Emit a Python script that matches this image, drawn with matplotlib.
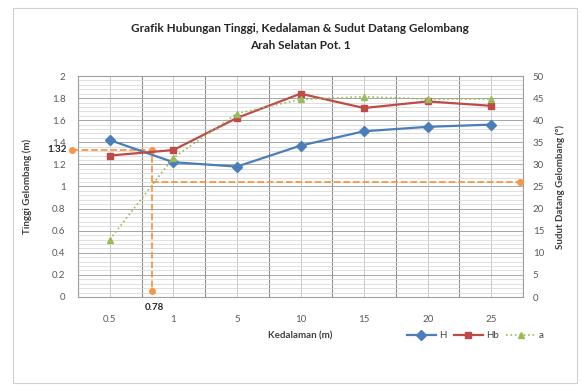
import matplotlib
matplotlib.use("Agg")
import matplotlib.pyplot as plt
import numpy as np
from matplotlib.patches import Rectangle
from matplotlib.ticker import MultipleLocator, FixedLocator

plt.rcParams['font.family'] = ['Lato', 'DejaVu Sans']

# ---- data ----
depth_labels = ["0.5", "1", "5", "10", "15", "20", "25"]
H = [1.42, 1.22, 1.18, 1.37, 1.50, 1.54, 1.56]
Hb = [1.28, 1.33, 1.62, 1.84, 1.71, 1.77, 1.73]
alpha = [13, 31.5, 41.5, 44.7, 45.3, 44.8, 44.8]

# guide lines (category-index x, value y)
guide_h_x = [-0.6, 0.66, 0.66]
guide_h_y = [1.33, 1.33, 0.05]
guide_a_x = [0.66, 6.45]
guide_a_y = [26, 26]
label_h = "1.32"
label_x = "0.78"

title = "Grafik Hubungan Tinggi, Kedalaman & Sudut Datang Gelombang\nArah Selatan Pot. 1"

W, Hpx = 582, 392
fig = plt.figure(figsize=(W / 100, Hpx / 100), dpi=100)
fig.patches.append(Rectangle((13 / W, 1 - 383 / Hpx), 564 / W, 375 / Hpx,
                             transform=fig.transFigure, fill=False,
                             edgecolor='#d0d0d0', lw=0.8))

ax = fig.add_axes([78 / W, 1 - 297 / Hpx, 445 / W, 221 / Hpx])
ax2 = ax.twinx()

x = np.arange(len(depth_labels))
ax.set_xlim(-0.5, len(depth_labels) - 0.5)
ax.set_ylim(0, 2)
ax2.set_ylim(0, 50)

# grid
ax.yaxis.set_major_locator(MultipleLocator(0.2))
ax.yaxis.set_minor_locator(MultipleLocator(0.04))
ax.grid(which='major', axis='y', color='#a6a6a6', lw=0.7)
ax.grid(which='minor', axis='y', color='#d9d9d9', lw=0.6)
ax.set_xticks(x)
ax.xaxis.set_minor_locator(FixedLocator(np.arange(-0.5, len(depth_labels), 1.0)))
ax.grid(which='major', axis='x', color='#c8c8c8', lw=0.7)
ax.grid(which='minor', axis='x', color='#8c8c8c', lw=0.8)
ax.set_axisbelow(True)

ax.plot(x, H, color='#4a7ebb', marker='D', ms=5, lw=1.6, label='H', zorder=4)
ax.plot(x, Hb, color='#be4b48', marker='s', ms=5, lw=1.6, label='Hb', zorder=4)
la, = ax2.plot(x, alpha, color='#9bbb59', marker='^', ms=5, lw=1.2, ls=':', label='a', zorder=4)

ax.plot(guide_h_x, guide_h_y, color='#f79646', ls='--', lw=1.3, marker='o', ms=4,
        clip_on=False, zorder=3)
ax2.plot(guide_a_x, guide_a_y, color='#f79646', ls='--', lw=1.3, marker='o', ms=4,
         markevery=[1], clip_on=False, zorder=3)

ax.set_xticklabels(depth_labels)
ax.tick_params(axis='x', which='both', length=0, pad=13, labelsize=7, labelcolor='#595959')
ax.tick_params(axis='y', which='both', length=0, pad=9, labelsize=7, labelcolor='#595959')
ax2.tick_params(axis='y', which='both', length=0, pad=7, labelsize=7, labelcolor='#595959')
ax.yaxis.set_major_formatter(plt.FuncFormatter(lambda v, p: f"{v:g}"))
ax2.yaxis.set_major_locator(MultipleLocator(5))

for s in ax.spines.values():
    s.set_color('#a0a0a0'); s.set_linewidth(0.8)
for s in ax2.spines.values():
    s.set_visible(False)

ax.set_ylabel("Tinggi Gelombang (m)", fontsize=7, fontweight='bold', color='#404040', labelpad=14)
ax2.set_ylabel("Sudut Datang Gelombang (\u00b0)", fontsize=7, fontweight='bold', color='#404040', labelpad=8)

fig.text(300 / W, 1 - 37 / Hpx, title, ha='center', va='center', fontsize=8.5,
         fontweight='bold', color='#262626', linespacing=1.6)
fig.text(300 / W, 1 - 336 / Hpx, "Kedalaman (m)", ha='center', va='center', fontsize=7,
         fontweight='bold', color='#404040')
fig.text(57 / W, 1 - 150 / Hpx, label_h, ha='center', va='center', fontsize=7,
         fontweight='bold', color='#262626')
fig.text(154 / W, 1 - 308 / Hpx, label_x, ha='center', va='center', fontsize=7,
         fontweight='bold', color='#262626')

h1, l1 = ax.get_legend_handles_labels()
leg = fig.legend(h1 + [la], l1 + ['a'], loc='center', bbox_to_anchor=(475 / W, 1 - 336 / Hpx),
                 ncol=3, frameon=False, fontsize=7, handlelength=3, columnspacing=0.8,
                 handletextpad=0.3)
for t in leg.get_texts():
    t.set_color('#404040')

fig.savefig("out.png", dpi=100)
